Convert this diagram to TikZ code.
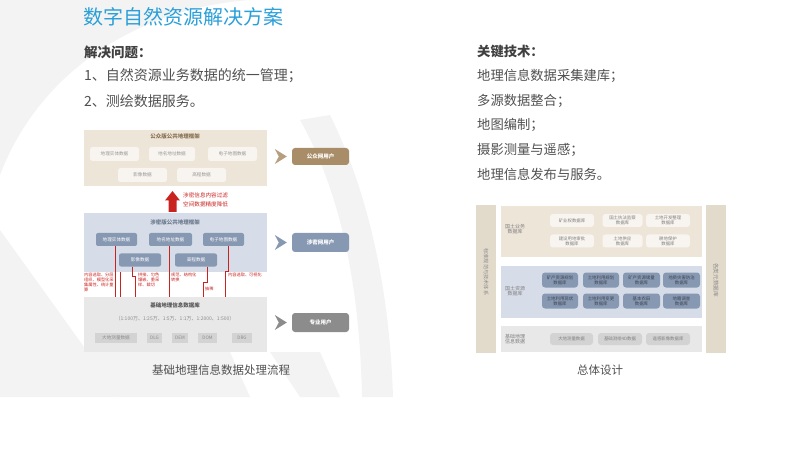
\documentclass[tikz,border=0pt]{standalone}
\usepackage{fontspec}
\setmainfont{Noto Sans CJK SC}
\usetikzlibrary{calc}
\definecolor{titleblue}{HTML}{2A9FD8}
\definecolor{txt}{HTML}{505050}
\definecolor{beigep}{HTML}{EEE5D9}
\definecolor{beigebox}{HTML}{F8F4EF}
\definecolor{brownu}{HTML}{A98D68}
\definecolor{bluep}{HTML}{D7DDE8}
\definecolor{blueb}{HTML}{8798B2}
\definecolor{grayp}{HTML}{E8E8E8}
\definecolor{grayb}{HTML}{D3D3D3}
\definecolor{grayu}{HTML}{8C8C8C}
\definecolor{redl}{HTML}{C9231F}
\definecolor{barc}{HTML}{E2DACB}
\definecolor{wm}{HTML}{F3F3F3}
\tikzset{
  panel/.style={inner sep=0, minimum width=183},
  ptitle/.style={font=\fontsize{5.5}{6}\selectfont\bfseries, inner sep=0},
  wbox/.style={rounded corners=2.5, fill=beigebox, text=black!40, font=\fontsize{4.6}{5}\selectfont, minimum height=14, inner sep=0},
  bbox/.style={rounded corners=2, fill=blueb, text=white, font=\fontsize{4.6}{5}\selectfont, minimum height=13, inner sep=0},
  gbox/.style={fill=grayb, text=black!45, font=\fontsize{4.6}{5}\selectfont, minimum height=10, inner sep=0},
  ubox/.style={rounded corners=3, text=white, font=\fontsize{5.5}{6}\selectfont\bfseries, minimum width=57, inner sep=0},
  redline/.style={draw=redl, line width=0.9},
  rnote/.style={text=redl, font=\fontsize{4.2}{5}\selectfont, align=left, inner sep=0, anchor=north west},
  body/.style={font=\fontsize{14}{14}\selectfont, text=txt, inner sep=0, anchor=west},
  bodyr/.style={font=\fontsize{13.3}{14}\selectfont, text=txt, inner sep=0, anchor=west},
  rbox/.style={rounded corners=3, font=\fontsize{4.4}{5}\selectfont, align=center, inner sep=0},
  rlabel/.style={font=\fontsize{5}{5.6}\selectfont, text=black!50, align=center, inner sep=0},
  caption/.style={font=\fontsize{11.5}{12}\selectfont, text=txt, inner sep=0}
}
\newcommand{\chevr}[2]{\fill[#2] ($(#1.west)+(-17,-7.5)$) -- ($(#1.west)+(-5,0)$) -- ($(#1.west)+(-17,7.5)$) -- ($(#1.west)+(-13,0)$) -- cycle;}
\begin{document}
\begin{tikzpicture}[x=1pt,y=-1pt]
\useasboundingbox (0,0) rectangle (789,454);
% watermark
\fill[wm] (0,0) -- (250,0) .. controls (140,8) and (40,70) .. (0,175) -- cycle;
\fill[wm] (0,230) -- (120,397) -- (0,397) -- cycle;
\fill[wm] (300,120) .. controls (345,200) and (360,300) .. (362,397) -- (393,397) .. controls (390,300) and (372,200) .. (330,115) -- cycle;
\fill[wm] (84,352) -- (230,352) -- (250,397) -- (120,397) -- cycle;
\fill[wm] (270,352) -- (300,397) -- (340,397) -- (320,352) -- cycle;

% title and text
\node[font=\fontsize{20}{20}\selectfont, text=titleblue, inner sep=0, anchor=west] (title) at (83,17) {数字自然资源解决方案};
\node[font=\fontsize{13.5}{14}\selectfont\bfseries, text=black!75, inner sep=0, anchor=west] (q) at (84,52) {解决问题：};
\node[body] (q1) at (84,76) {1、自然资源业务数据的统一管理；};
\node[body] (q2) at (84,101) {2、测绘数据服务。};
\node[font=\fontsize{13.3}{14}\selectfont\bfseries, text=black!75, inner sep=0, anchor=west] (k) at (477,52) {关键技术：};
\node[bodyr] (k1) at (477,76) {地理信息数据采集建库；};
\node[bodyr] (k2) at (477,101) {多源数据整合；};
\node[bodyr] (k3) at (477,125) {地图编制；};
\node[bodyr] (k4) at (477,150) {摄影测量与遥感；};
\node[bodyr] (k5) at (477,174) {地理信息发布与服务。};

% ===== left diagram =====
\node[panel, fill=beigep, minimum height=56] (pub) at (175.5,158) {};
\node[ptitle, text=brownu!80!black] (pubt) at (175,136) {公众版公共地理框架};
\node[wbox, minimum width=49] (p1) at (114.5,154) {地理实体数据};
\node[wbox, minimum width=46] (p2) at (172,154) {地名地址数据};
\node[wbox, minimum width=49] (p3) at (232.5,154) {电子地图数据};
\node[wbox, minimum width=49] (p4) at (142.5,175) {影像数据};
\node[wbox, minimum width=49] (p5) at (201.5,175) {高程数据};
\node[ubox, fill=brownu, minimum height=17] (pubu) at (320.5,156.5) {公众网用户};
\chevr{pubu}{brownu!85}

\node[panel, fill=bluep, minimum height=59] (sec) at (175.5,242.5) {};
\node[ptitle, text=blueb!80!black] (sect) at (175,222) {涉密版公共地理框架};
\node[bbox, minimum width=41] (s1) at (116.5,239.5) {地理实体数据};
\node[bbox, minimum width=43] (s2) at (170.5,239.5) {地名地址数据};
\node[bbox, minimum width=41] (s3) at (223.5,239.5) {电子地图数据};
\node[bbox, minimum width=42] (s4) at (140,260) {影像数据};
\node[bbox, minimum width=42] (s5) at (196,260) {高程数据};
\node[ubox, fill=blueb, minimum height=19] (secu) at (320.5,242.5) {涉密网用户};
\chevr{secu}{blueb}

% red arrow
\fill[redl] (172.5,191) -- (180,200.5) -- (176.5,200.5) -- (176.5,212) -- (168.5,212) -- (168.5,200.5) -- (165,200.5) -- cycle;
\node[rnote, font=\fontsize{5.6}{9}\selectfont] (redt) at (183,192.5) {涉密信息内容过滤\\空间数据精度降低};

\node[panel, fill=grayp, minimum height=55] (base) at (175.5,324.5) {};
\node[ptitle, text=black!65] (baset) at (175,305) {基础地理信息数据库};
\node[inner sep=0, font=\fontsize{5}{5}\selectfont, text=black!45] (scale) at (175,319) {（1:100万、1:25万、1:5万、1:1万、1:2000、1:500）};
\node[gbox, minimum width=42] (b1) at (116,337.5) {大地测量数据};
\node[gbox, minimum width=15] (b2) at (154.5,337.5) {DLG};
\node[gbox, minimum width=16] (b3) at (180,337.5) {DEM};
\node[gbox, minimum width=19] (b4) at (207.5,337.5) {DOM};
\node[gbox, minimum width=20] (b5) at (242,337.5) {DRG};
\node[ubox, fill=grayu, minimum height=19] (prou) at (320.5,322.5) {专业用户};
\chevr{prou}{grayu}

% red lines (from the base panel up to the boxes)
\draw[redline] (s1.south -| 115,0) -- (115,0 |- base.north);
\draw[redline] (120,272) -- (120,0 |- base.north);
\draw[redline] (s4.south -| 132,0) -- (132,276) -- (135,276) -- (135,0 |- base.north);
\draw[redline] (s2.south -| 169,0) -- (169,0 |- base.north);
\draw[redline] (s5.south -| 207,0) -- (207,282) -- (203,282) -- (203,0 |- base.north);
\draw[redline] (s3.south -| 228,0) -- (228,271) -- (225,271) -- (225,0 |- base.north);
\node[rnote] (n1) at (84,273) {内容选取、分层\\组织、模型化采\\集属性、统计量\\算};
\node[rnote] (n2) at (138,273) {拼接、匀色\\镶嵌、重采\\样、裁切};
\node[rnote] (n3) at (171,273) {规范、结构化\\转换};
\node[rnote] (n4) at (205,287) {抽稀};
\node[rnote] (n5) at (228,273) {内容选取、可视化};

\node[caption] (cap1) at (221,370) {基础地理信息数据处理流程};

% ===== right diagram =====
\node[fill=barc, minimum width=20, minimum height=148, inner sep=0] (lbar) at (486,279) {};
\node[rotate=-90, font=\fontsize{5.2}{5.2}\selectfont, text=black!45, inner sep=0] (lbart) at (486,272) {标准规范与技术体系};
\node[fill=barc, minimum width=20, minimum height=148, inner sep=0] (rbar) at (716,279) {};
\node[rotate=-90, font=\fontsize{5.6}{5.6}\selectfont, text=black!45, inner sep=0] (rbart) at (716,280) {各类元数据库};

\node[fill=beigep, minimum width=201, minimum height=51, inner sep=0] (tp) at (601.5,231.5) {};
\node[rlabel] (tpl) at (515,229) {国土业务\\数据库};
\node[rbox, fill=beigebox, text=black!50, minimum width=44, minimum height=13] (t1) at (572,220.5) {矿业权数据库};
\node[rbox, fill=beigebox, text=black!50, minimum width=40, minimum height=13] (t2) at (622.5,220.5) {国土执法监察\\数据库};
\node[rbox, fill=beigebox, text=black!50, minimum width=44, minimum height=13] (t3) at (668,220.5) {土地开发整理\\数据库};
\node[rbox, fill=beigebox, text=black!50, minimum width=44, minimum height=13] (t4) at (572,241) {建设用地审批\\数据库};
\node[rbox, fill=beigebox, text=black!50, minimum width=40, minimum height=13] (t5) at (622.5,241) {土地供应\\数据库};
\node[rbox, fill=beigebox, text=black!50, minimum width=44, minimum height=13] (t6) at (668,241) {耕地保护\\数据库};

\node[fill=bluep, minimum width=201, minimum height=52, inner sep=0] (mp) at (601.5,292) {};
\node[rlabel] (mpl) at (515,291) {国土资源\\数据库};
\node[rbox, fill=blueb, text=blueb!45!black, minimum width=36, minimum height=15] (m1) at (560,280) {矿产资源规划\\数据库};
\node[rbox, fill=blueb, text=blueb!45!black, minimum width=36, minimum height=15] (m2) at (601,280) {土地利用规划\\数据库};
\node[rbox, fill=blueb, text=blueb!45!black, minimum width=37, minimum height=15] (m3) at (641.5,280) {矿产资源储量\\数据库};
\node[rbox, fill=blueb, text=blueb!45!black, minimum width=37, minimum height=15] (m4) at (681.5,280) {地质灾害防治\\数据库};
\node[rbox, fill=blueb, text=blueb!45!black, minimum width=36, minimum height=15] (m5) at (560,301) {土地利用现状\\数据库};
\node[rbox, fill=blueb, text=blueb!45!black, minimum width=36, minimum height=15] (m6) at (601,301) {土地利用变更\\数据库};
\node[rbox, fill=blueb, text=blueb!45!black, minimum width=37, minimum height=15] (m7) at (641.5,301) {基本农田\\数据库};
\node[rbox, fill=blueb, text=blueb!45!black, minimum width=37, minimum height=15] (m8) at (681.5,301) {地籍调查\\数据库};

\node[fill=grayp, minimum width=201, minimum height=26, inner sep=0] (bp) at (601.5,339) {};
\node[rlabel] (bpl) at (515,339) {基础地理\\信息数据};
\node[rbox, fill=grayb, text=black!50, minimum width=43, minimum height=12] (g1) at (571.5,339) {大地测量数据};
\node[rbox, fill=grayb, text=black!50, minimum width=44, minimum height=12] (g2) at (620,339) {基础测绘4D数据};
\node[rbox, fill=grayb, text=black!50, minimum width=44, minimum height=12] (g3) at (668,339) {遥感影像数据库};

\node[caption] (cap2) at (600,370) {总体设计};
\end{tikzpicture}
\end{document}
